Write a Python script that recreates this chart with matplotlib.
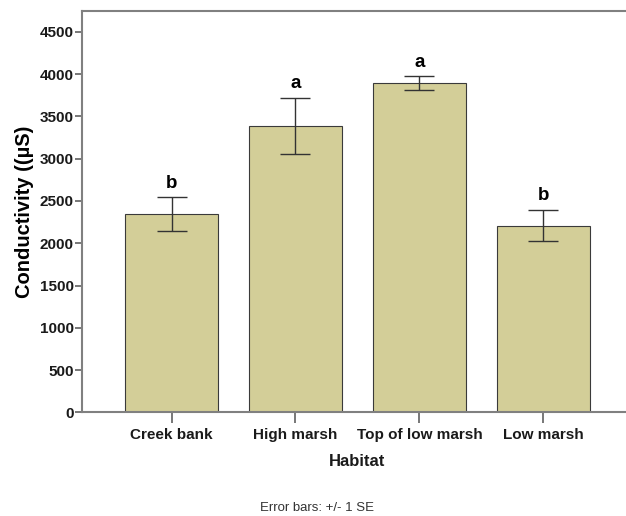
import matplotlib.pyplot as plt

habitats = ["Creek bank", "High marsh", "Top of low marsh", "Low marsh"]
conductivity = [2345, 3390, 3898, 2210]
se = [200, 332, 80, 187]
letters = ["b", "a", "a", "b"]

plt.rcParams['font.family'] = ['Liberation Sans', 'DejaVu Sans']

fig = plt.figure(figsize=(6.26, 5.16), dpi=100)
ax = fig.add_axes([0.131, 0.201, 0.880, 0.778])

x = list(range(len(habitats)))
ax.bar(x, conductivity, width=0.75, color='#D3CE98', edgecolor='#3a3a3a', linewidth=0.8, zorder=2)
ax.errorbar(x, conductivity, yerr=se, fmt='none', ecolor='#333333', elinewidth=1,
            capsize=11, capthick=1, zorder=3)

for xi, v, e, lab in zip(x, conductivity, se, letters):
    ax.annotate(lab, (xi, v + e), xytext=(0, 4), textcoords='offset points',
                ha='center', va='bottom', fontsize=13.5, fontweight='bold')

ax.set_xlim(-0.723, 3.723)
ax.set_ylim(0, 4750)
ax.set_yticks(range(0, 5000, 500))
ax.set_xticks(x)
ax.set_xticklabels(habitats, fontsize=11, fontweight='bold', color='#1a1a1a')
for t in ax.get_yticklabels():
    t.set_fontsize(11)
    t.set_fontweight('bold')
    t.set_color('#1a1a1a')

for side in ['left', 'bottom', 'top']:
    ax.spines[side].set_color('#808080')
    ax.spines[side].set_linewidth(1.5)
ax.spines['right'].set_visible(False)
ax.tick_params(axis='y', length=5, width=1.2, color='#606060', pad=1)
ax.tick_params(axis='x', length=8, width=1.2, color='#606060', pad=3)

ax.set_ylabel("Conductivity ((µS)", fontsize=14.5, fontweight='bold', labelpad=4)
ax.set_xlabel("Habitat", fontsize=12, fontweight='bold', color='#1a1a1a', labelpad=9)

fig.text(0.507, 0.003, "Error bars: +/- 1 SE", ha='center', va='bottom', fontsize=9.5, color='#333333')

plt.savefig("out.png", dpi=100)
